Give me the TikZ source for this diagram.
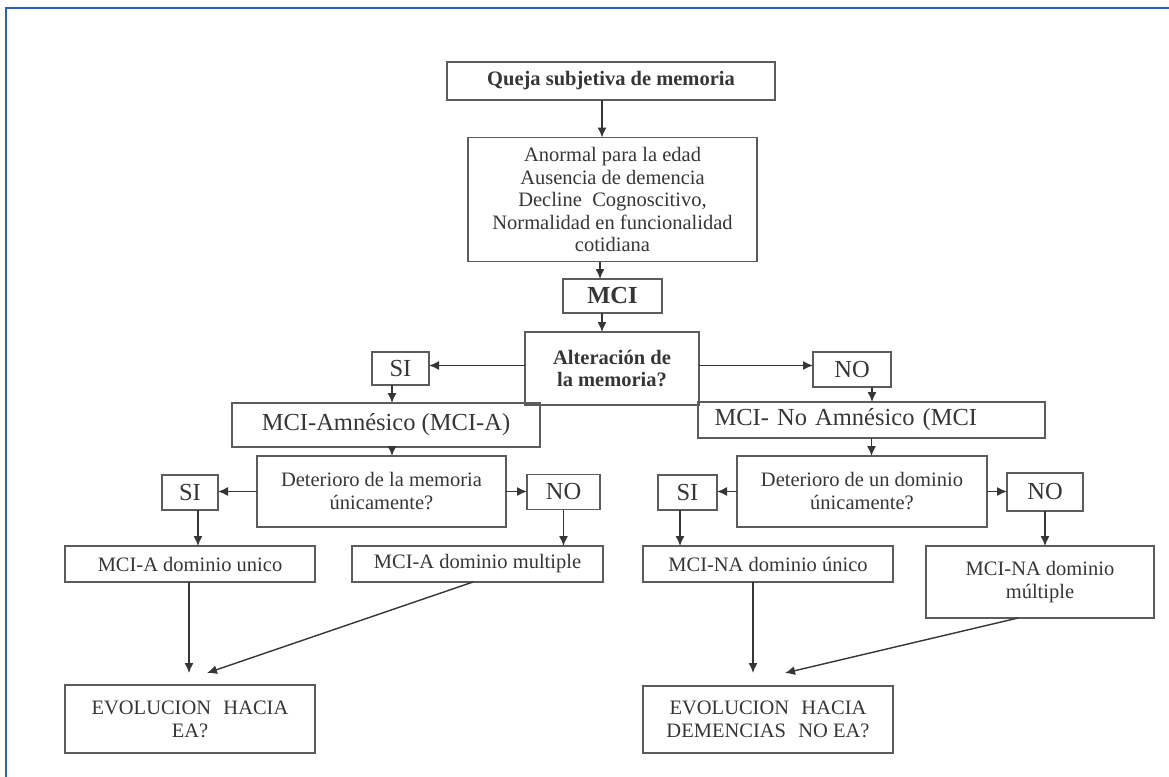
\documentclass[tikz,border=0pt]{standalone}
\usepackage{fontspec}
\setmainfont{Liberation Serif}
\usetikzlibrary{arrows.meta,calc}
\definecolor{frameblue}{HTML}{2A62B4}
\definecolor{boxgray}{HTML}{5C5C5C}
\definecolor{txtgray}{HTML}{363636}
\begin{document}
\begin{tikzpicture}[x=1pt,y=-1pt,
  box/.style={draw=boxgray, line width=1.7pt, rectangle, inner sep=0pt, outer sep=0pt,
    align=center, text=txtgray, font=\fontsize{20.5}{23}\selectfont},
  bigtxt/.style={font=\fontsize{24.5}{27}\selectfont},
  boldtxt/.style={font=\bfseries\fontsize{20.5}{22.5}\selectfont},
  arr/.style={draw=txtgray, line width=1.4pt, -{Latex[length=10pt,width=9pt]}}]
\useasboundingbox (0,0) rectangle (1169,776);
\fill[white] (0,0) rectangle (1169,776);
\draw[frameblue, line width=2pt] (1200,8.5) -- (5.5,8.5) -- (5.5,800);

% nodes
\node[box, boldtxt, minimum width=328pt, minimum height=38pt] (q) at (611,81) {Queja subjetiva de memoria};
\node[box, font=\fontsize{20.5}{22.5}\selectfont, minimum width=289pt, minimum height=124pt] (crit) at (612.5,199.5)
  {Anormal para la edad\\Ausencia de demencia\\Decline\hspace{0.5em}Cognoscitivo,\\Normalidad en funcionalidad\\cotidiana};
\node[box, font=\bfseries\fontsize{24.5}{27}\selectfont, minimum width=99pt, minimum height=34pt] (mci) at (612.5,296) {MCI};
\node[box, boldtxt, minimum width=174pt, minimum height=73pt] (alt) at (612,368.5) {Alteración de\\la memoria?};
\node[box, bigtxt, minimum width=57pt, minimum height=33pt] (si1) at (400.5,368.5) {SI};
\node[box, bigtxt, minimum width=78pt, minimum height=35pt] (no1) at (852,369.5) {NO};
\node[box, bigtxt, minimum width=308pt, minimum height=44pt] (mcia) at (386,425) {MCI-Amnésico (MCI-A)};
\node[box, bigtxt, minimum width=347pt, minimum height=36pt, text width=314pt, align=left] (mcina) at (871.5,420) {MCI- No Amnésico (MCI};
\node[box, minimum width=249pt, minimum height=71pt] (deta) at (381.5,491.5) {Deterioro de la memoria\\únicamente?};
\node[box, bigtxt, minimum width=56pt, minimum height=35pt] (si2) at (190,492.5) {SI};
\node[box, bigtxt, minimum width=73pt, minimum height=35pt] (no2) at (563.5,492) {NO};
\node[box, minimum width=250pt, minimum height=71pt] (detn) at (862,491.5) {Deterioro de un dominio\\únicamente?};
\node[box, bigtxt, minimum width=59pt, minimum height=35pt] (si3) at (687.5,492.5) {SI};
\node[box, bigtxt, minimum width=76pt, minimum height=38pt] (no3) at (1045,492) {NO};
\node[box, minimum width=250pt, minimum height=36pt] (aun) at (190,564) {MCI-A dominio unico};
\node[box, minimum width=251pt, minimum height=36pt] (amu) at (477.5,564) {MCI-A dominio multiple};
\node[box, minimum width=250pt, minimum height=36pt] (naun) at (768,564) {MCI-NA dominio único};
\node[box, minimum width=228pt, minimum height=72pt] (namu) at (1040,582) {MCI-NA dominio\\múltiple};
\node[box, minimum width=250pt, minimum height=68pt] (evoa) at (190,719) {EVOLUCION\hspace{0.6em}HACIA\\EA?};
\node[box, minimum width=250pt, minimum height=67pt] (evon) at (768,719.5) {EVOLUCION\hspace{0.6em}HACIA\\DEMENCIAS\hspace{0.6em}NO EA?};

% free arrow ends above the bottom boxes
\coordinate (ta1) at (189,673);
\coordinate (ta2) at (207,673);
\coordinate (tn1) at (753,673);
\coordinate (tn2) at (785,673);

% connectors
\draw[arr] ([xshift=-9pt]q.south) -- ([xshift=-9pt]q.south |- crit.north);
\draw[arr] ([xshift=-12.5pt]crit.south) -- ([xshift=-12.5pt]crit.south |- mci.north);
\draw[arr] ([xshift=-10.5pt]mci.south) -- ([xshift=-10.5pt]mci.south |- alt.north);
\draw[arr] ([yshift=3pt]alt.west) -- ([yshift=3pt]alt.west -| si1.east);
\draw[arr] ([yshift=3pt]alt.east) -- ([yshift=3pt]alt.east -| no1.west);
\draw[arr] ([xshift=-8.5pt]si1.south) -- ([xshift=-8.5pt]si1.south |- mcia.north);
\draw[arr] ([xshift=20pt]no1.south) -- ([xshift=20pt]no1.south |- mcina.north);
\draw[arr] ([xshift=6pt]mcia.south) -- ([xshift=6pt]mcia.south |- deta.north);
\draw[arr] (mcina.south) -- (mcina.south |- detn.north);
\draw[arr] (deta.west) -- (deta.west -| si2.east);
\draw[arr] (deta.east) -- (deta.east -| no2.west);
\draw[arr] (detn.west) -- (detn.west -| si3.east);
\draw[arr] (detn.east) -- (detn.east -| no3.west);
\draw[arr] ([xshift=8pt]si2.south) -- ([xshift=8pt]si2.south |- aun.north);
\draw[arr] (no2.south) -- (no2.south |- amu.north);
\draw[arr] ([xshift=-7.5pt]si3.south) -- ([xshift=-7.5pt]si3.south |- naun.north);
\draw[arr] (no3.south) -- (no3.south |- namu.north);
\draw[arr] (aun.south -| ta1) -- (ta1);
\draw[arr] ([xshift=-4.5pt]amu.south) -- (ta2);
\draw[arr] (naun.south -| tn1) -- (tn1);
\draw[arr] ([xshift=-22pt]namu.south) -- (tn2);
\end{tikzpicture}
\end{document}
